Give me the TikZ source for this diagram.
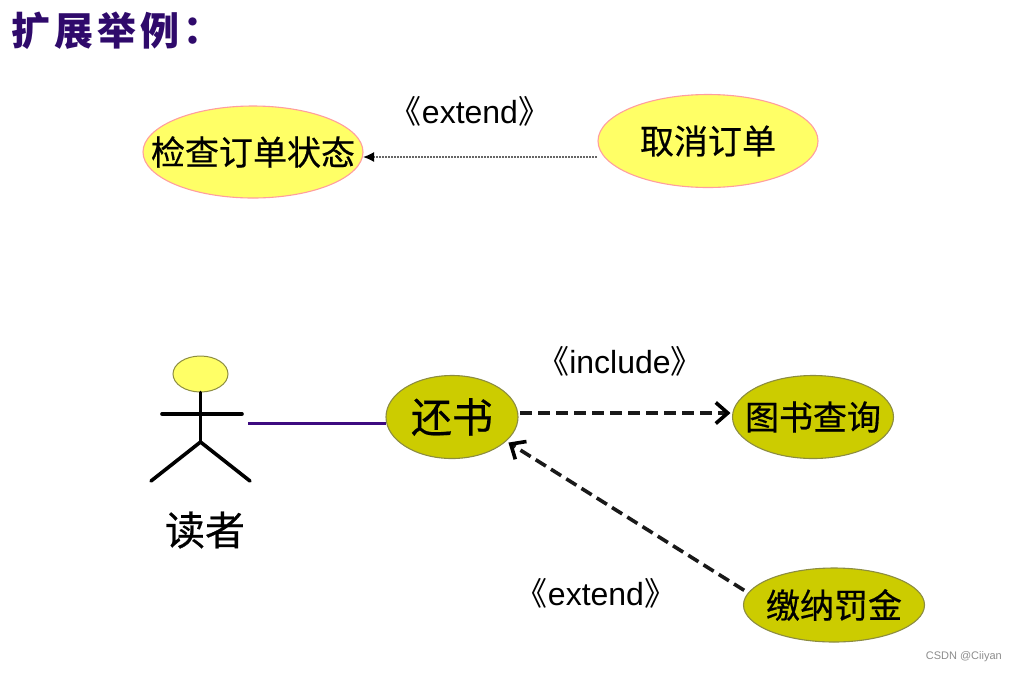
\documentclass[tikz,border=0pt]{standalone}
\usepackage{fontspec}
\setmainfont{Liberation Sans}
\newfontfamily\cjk{Noto Sans CJK SC}
\newfontfamily\cjkheavy[FakeBold=0.5]{Noto Sans CJK SC}
\newfontfamily\cjktc{Noto Sans CJK TC}
\usetikzlibrary{shapes.geometric,arrows.meta}
\definecolor{lightyel}{HTML}{FFFF66}
\definecolor{pinkedge}{HTML}{FF9E9E}
\definecolor{olivefill}{HTML}{CCCC00}
\definecolor{oliveedge}{HTML}{8C8C40}
\definecolor{titlepurple}{HTML}{2F0A6B}
\definecolor{linkpurple}{HTML}{3D0A80}
\newcommand{\zw}[1]{\makebox[0pt][c]{#1}}
\tikzset{
  x=1pt,y=-1pt,
  usecase/.style={ellipse,inner sep=0pt,outer sep=0pt,line width=1.1pt,text=black},
  yelcase/.style={usecase,draw=pinkedge,fill=lightyel},
  olicase/.style={usecase,draw=oliveedge,fill=olivefill},
  casetext/.style={font=\cjkheavy\fontsize{34}{36}\selectfont},
  bigtext/.style={font=\cjkheavy\fontsize{41}{44}\selectfont},
  stereo/.style={inner sep=0pt,font=\fontsize{32}{36}\selectfont,text=black},
  stick/.style={line width=3.6pt,black,line cap=round},
  deplink/.style={line width=3.6pt,black!90,dash pattern=on 12pt off 6pt,-{Straight Barb[length=12pt,width=21pt,line width=3.6pt,black]}},
  thinlink/.style={line width=1.6pt,black!60,dash pattern=on 2pt off 1pt,-{Latex[length=11pt,width=10pt,black]}},
  assoc/.style={line width=3pt,linkpurple},
}
\begin{document}
\begin{tikzpicture}
\useasboundingbox (0,0) rectangle (1016,673);
\node[anchor=west,inner sep=0pt,text=titlepurple,font=\cjk\bfseries\fontsize{39}{42}\selectfont] (title) at (11,31) {扩\hspace{4pt}展\hspace{4pt}举\hspace{4pt}例\hspace{-6pt}{\cjktc\bfseries ：}};

\node[yelcase,casetext,minimum width=220pt,minimum height=92pt] (check) at (253,152) {\zw{检查订单状态}};
\node[yelcase,casetext,minimum width=220pt,minimum height=93pt] (cancel) at (708,141) {\zw{取消订单}};
\node[stereo] (ext1) at (470,111) {\zw{{\cjk 《}extend{\cjk 》}}};
\coordinate (thintail) at (597,157);
\draw[thinlink] (thintail) -- (thintail -| check.east);

\node[olicase,bigtext,minimum width=132pt,minimum height=83pt] (ret) at (452,417) {\zw{还书}};
\node[olicase,casetext,minimum width=161pt,minimum height=83pt] (query) at (813,417) {\zw{图书查询}};
\node[olicase,casetext,minimum width=181pt,minimum height=74pt] (fine) at (834,605) {\zw{缴纳罚金}};
\node[stereo] (inc) at (620,361) {\zw{{\cjk 《}include{\cjk 》}}};
\node[stereo] (ext2) at (596,593) {\zw{{\cjk 《}extend{\cjk 》}}};

\coordinate (inctail) at (520,413);
\draw[deplink,shorten >=2pt] (inctail) -- (inctail -| query.west);
\draw[deplink,shorten <=5pt,shorten >=3pt] (fine.172.5) -- (ret.-24);

\node[ellipse,inner sep=0pt,draw=oliveedge,line width=1pt,fill=lightyel,minimum width=55pt,minimum height=36pt] (head) at (200.5,374) {};
\coordinate (hip) at (200.5,442);
\coordinate (armL) at (162,414);
\coordinate (armR) at (242,414);
\coordinate (footL) at (151,481);
\coordinate (footR) at (250,481);
\coordinate (hand) at (248,423);
\draw[stick] (head.south) -- (hip);
\draw[stick] (armL) -- (armR);
\draw[stick] (footL) -- (hip) -- (footR);
\node[inner sep=0pt,font=\cjkheavy\fontsize{40}{44}\selectfont,text=black] (reader) at (205,530) {读者};
\draw[assoc] (hand) -- (hand -| ret.west);

\node[inner sep=0pt,anchor=east,text=black!45,font=\fontsize{11}{13}\selectfont] (mark) at (1002,657) {CSDN @Ciiyan};
\end{tikzpicture}
\end{document}
